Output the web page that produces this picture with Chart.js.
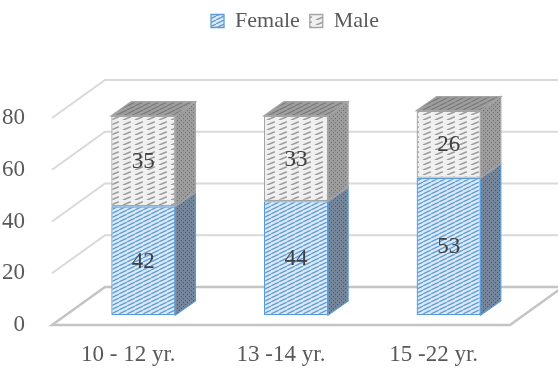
<!DOCTYPE html>
<html lang="en">
<head>
    <meta charset="UTF-8">
    <title>Age groups by sex</title>
    <style>
        body { margin: 0; background: #ffffff; }
        .chart-box { width: 558px; height: 368px; }
    </style>
    <script src="https://cdn.jsdelivr.net/npm/chart.js"></script>
</head>
<body>
    <div class="chart-box">
        <canvas id="myChart" width="558" height="368"></canvas>
    </div>

    <script>
        // chart data
        const categories = ['10 - 12 yr.', '13 -14 yr.', '15 -22 yr.'];
        const female = [42, 44, 53];
        const male = [35, 33, 26];
        const yTicks = [0, 20, 40, 60, 80];

        const FONT = 'Liberation Serif, Times New Roman, serif';
        const TEXT = '#595959';

        // 3d look: depth of the floor, and where the bars sit in it
        const DEPTH = { x: 53, y: -38 };
        const BAR_SHIFT = { x: 15, y: -10 };
        const BAR_DEPTH = { x: 20, y: -14 };

        // small helper to build a hatch pattern
        function makePattern(w, h, bg, draw) {
            const c = document.createElement('canvas');
            c.width = w;
            c.height = h;
            const g = c.getContext('2d');
            g.fillStyle = bg;
            g.fillRect(0, 0, w, h);
            draw(g);
            return document.getElementById('myChart').getContext('2d').createPattern(c, 'repeat');
        }

        function diag(g, color, lw, w, h, dashed) {
            g.strokeStyle = color;
            g.lineWidth = lw;
            for (let k = -1; k <= 1; k++) {
                g.beginPath();
                if (dashed) {
                    g.moveTo(k * w, h);
                    g.lineTo(k * w + w * 0.65, h * 0.35);
                } else {
                    g.moveTo(k * w, h);
                    g.lineTo(k * w + w, 0);
                }
                g.stroke();
            }
        }

        function dots(g, color) {
            g.fillStyle = color;
            g.fillRect(0, 0, 1, 1);
            g.fillRect(2, 2, 1, 1);
        }

        const femaleFront = makePattern(8, 4, '#dce9f6', g => diag(g, '#5b9bd5', 1.3, 8, 4, false));
        const maleFront = makePattern(12, 5, '#f0f0f0', g => diag(g, '#9c9c9c', 1.6, 12, 5, true));
        const femaleSide = makePattern(4, 4, '#75869b', g => dots(g, '#4a5664'));
        const maleSide = makePattern(4, 4, '#9c9c9c', g => dots(g, '#6e6e6e'));
        const maleTop = makePattern(8, 4, '#9e9e9e', g => diag(g, '#7a7a7a', 1.2, 8, 4, false));

        // leave room between the legend and the plot, and nudge it right
        const legendGap = {
            id: 'legendGap',
            beforeInit(chart) {
                const legend = chart.legend;
                const fit = legend.fit;
                const draw = legend.draw;
                legend.fit = function () {
                    fit.call(legend);
                    legend.height += 76;
                };
                legend.draw = function () {
                    chart.ctx.save();
                    chart.ctx.translate(40, 0);
                    draw.call(legend);
                    chart.ctx.restore();
                };
            }
        };

        const box3d = {
            id: 'box3d',
            beforeDatasetsDraw(chart) {
                const ctx = chart.ctx;
                const area = chart.chartArea;
                const yScale = chart.scales.y;
                const y0 = yScale.getPixelForValue(0);

                ctx.save();
                // floor
                ctx.beginPath();
                ctx.moveTo(area.left, y0);
                ctx.lineTo(area.right, y0);
                ctx.lineTo(area.right + DEPTH.x, y0 + DEPTH.y);
                ctx.lineTo(area.left + DEPTH.x, y0 + DEPTH.y);
                ctx.closePath();
                ctx.fillStyle = '#ffffff';
                ctx.fill();
                ctx.strokeStyle = '#c4c4c4';
                ctx.lineWidth = 2.5;
                ctx.stroke();

                // side wall + back wall grid lines
                ctx.strokeStyle = '#d9d9d9';
                ctx.lineWidth = 2;
                yTicks.forEach(v => {
                    if (v === 0) return;
                    const py = yScale.getPixelForValue(v);
                    ctx.beginPath();
                    ctx.moveTo(area.left, py);
                    ctx.lineTo(area.left + DEPTH.x, py + DEPTH.y);
                    ctx.lineTo(chart.width, py + DEPTH.y);
                    ctx.stroke();
                });
                ctx.restore();

                // bars sit a little way into the floor
                ctx.save();
                ctx.translate(BAR_SHIFT.x, BAR_SHIFT.y);
            },
            afterDatasetsDraw(chart) {
                const ctx = chart.ctx;
                const sides = [femaleSide, maleSide];
                const edges = ['#5b9bd5', '#a5a5a5'];
                const last = chart.data.datasets.length - 1;

                chart.data.datasets.forEach((ds, di) => {
                    const meta = chart.getDatasetMeta(di);
                    meta.data.forEach((bar, i) => {
                        const p = bar.getProps(['x', 'y', 'base', 'width'], true);
                        const left = p.x - p.width / 2;
                        const right = p.x + p.width / 2;
                        const top = Math.min(p.y, p.base);
                        const bottom = Math.max(p.y, p.base);

                        ctx.lineWidth = 1.3;
                        ctx.strokeStyle = edges[di];

                        // right side face
                        ctx.beginPath();
                        ctx.moveTo(right, top);
                        ctx.lineTo(right + BAR_DEPTH.x, top + BAR_DEPTH.y);
                        ctx.lineTo(right + BAR_DEPTH.x, bottom + BAR_DEPTH.y);
                        ctx.lineTo(right, bottom);
                        ctx.closePath();
                        ctx.fillStyle = sides[di];
                        ctx.fill();
                        ctx.stroke();

                        // top face only on the upper stack
                        if (di === last) {
                            ctx.beginPath();
                            ctx.moveTo(left, top);
                            ctx.lineTo(left + BAR_DEPTH.x, top + BAR_DEPTH.y);
                            ctx.lineTo(right + BAR_DEPTH.x, top + BAR_DEPTH.y);
                            ctx.lineTo(right, top);
                            ctx.closePath();
                            ctx.fillStyle = maleTop;
                            ctx.fill();
                            ctx.strokeStyle = '#a5a5a5';
                            ctx.stroke();
                        }

                        // value label
                        ctx.fillStyle = '#404040';
                        ctx.font = '23px ' + FONT;
                        ctx.textAlign = 'center';
                        ctx.textBaseline = 'middle';
                        ctx.fillText(ds.data[i], p.x, (top + bottom) / 2 + 1);
                    });
                });
                ctx.restore();
            }
        };

        const ctx = document.getElementById('myChart').getContext('2d');
        const myChart = new Chart(ctx, {
            type: 'bar',
            data: {
                labels: categories,
                datasets: [
                    {
                        label: 'Female',
                        data: female,
                        backgroundColor: femaleFront,
                        borderColor: '#5b9bd5',
                        borderWidth: 1.3,
                        borderSkipped: false
                    },
                    {
                        label: 'Male',
                        data: male,
                        backgroundColor: maleFront,
                        borderColor: '#a5a5a5',
                        borderWidth: 1.3,
                        borderSkipped: false
                    }
                ]
            },
            options: {
                responsive: false,
                animation: false,
                clip: false,
                barPercentage: 0.42,
                categoryPercentage: 1,
                layout: {
                    padding: { top: 0, right: 48, left: 0, bottom: 0 }
                },
                plugins: {
                    legend: {
                        position: 'top',
                        labels: {
                            boxWidth: 13,
                            boxHeight: 13,
                            padding: 10,
                            color: TEXT,
                            font: { family: FONT, size: 22 }
                        }
                    },
                    tooltip: { enabled: false }
                },
                scales: {
                    x: {
                        stacked: true,
                        grid: { display: false },
                        border: { display: false },
                        ticks: {
                            color: TEXT,
                            padding: 8,
                            font: { family: FONT, size: 23 }
                        },
                        afterFit: s => { s.height = 43; }
                    },
                    y: {
                        stacked: true,
                        min: 0,
                        max: 80,
                        grid: { display: false },
                        border: { display: false },
                        ticks: {
                            stepSize: 20,
                            color: TEXT,
                            padding: 19,
                            font: { family: FONT, size: 23 }
                        },
                        afterFit: s => { s.width = 52; }
                    }
                }
            },
            plugins: [legendGap, box3d]
        });
    </script>
</body>
</html>
